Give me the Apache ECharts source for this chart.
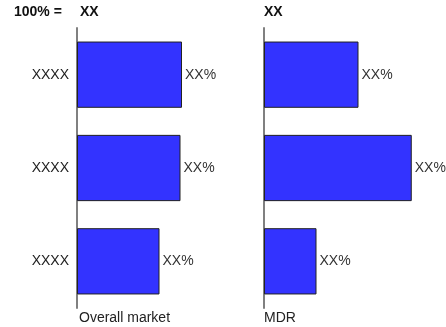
<!DOCTYPE html>
<html><head><meta charset="utf-8">
<script src="https://cdn.jsdelivr.net/npm/echarts@6/dist/echarts.min.js"></script>
<style>html,body{margin:0;padding:0;background:#fff}#c{width:446px;height:327px}</style>
</head><body><div id="c"></div>
<script>
const categories = ['XXXX', 'XXXX', 'XXXX'];
const overallValues = [70, 69, 55];
const mdrValues = [63, 98.5, 35];
const overallLabels = ['XX%', 'XX%', 'XX%'];
const mdrLabels = ['XX%', 'XX%', 'XX%'];
const panelTitles = ['Overall market', 'MDR'];
const baseTitles = ['XX', 'XX'];
const baseLabel = '100% =';

const FONT = 'Liberation Sans, Arial, sans-serif';
const chart = echarts.init(document.getElementById('c'), null, {renderer: 'canvas'});
function yAx(gi, showLabels) {
  return {
    type: 'category', gridIndex: gi, data: categories, inverse: true,
    axisLine: {show: true, lineStyle: {color: '#808080', width: 2}},
    axisTick: {show: false},
    axisLabel: {show: showLabels, color: '#222', fontSize: 14, fontFamily: FONT, margin: 8},
    splitLine: {show: false}
  };
}
function xAx(gi) {
  return {type: 'value', gridIndex: gi, min: 0, max: 100, show: false, splitLine: {show: false}};
}
function ser(i, vals, labs) {
  return {
    type: 'bar', xAxisIndex: i, yAxisIndex: i, data: vals, barCategoryGap: '29%',
    itemStyle: {color: '#3333FF', borderColor: '#222', borderWidth: 1},
    label: {show: true, position: 'right', distance: 3, color: '#333', fontSize: 14, fontFamily: FONT,
      formatter: p => labs[p.dataIndex]},
    animation: false
  };
}
chart.setOption({
  animation: false,
  grid: [
    {left: 77, top: 28, width: 150, height: 280},
    {left: 264, top: 28, width: 150, height: 280}
  ],
  xAxis: [xAx(0), xAx(1)],
  yAxis: [yAx(0, true), yAx(1, false)],
  series: [ser(0, overallValues, overallLabels), ser(1, mdrValues, mdrLabels)],
  graphic: [
    {type: 'text', left: 14, top: 5, style: {text: baseLabel, font: 'bold 14px ' + FONT, fill: '#111'}},
    {type: 'text', left: 80, top: 5, style: {text: baseTitles[0], font: 'bold 14px ' + FONT, fill: '#111'}},
    {type: 'text', left: 264, top: 5, style: {text: baseTitles[1], font: 'bold 14px ' + FONT, fill: '#111'}},
    {type: 'text', left: 79, top: 311, style: {text: panelTitles[0], font: '14px ' + FONT, fill: '#222'}},
    {type: 'text', left: 264, top: 311, style: {text: panelTitles[1], font: '14px ' + FONT, fill: '#222'}}
  ]
});
</script></body></html>
